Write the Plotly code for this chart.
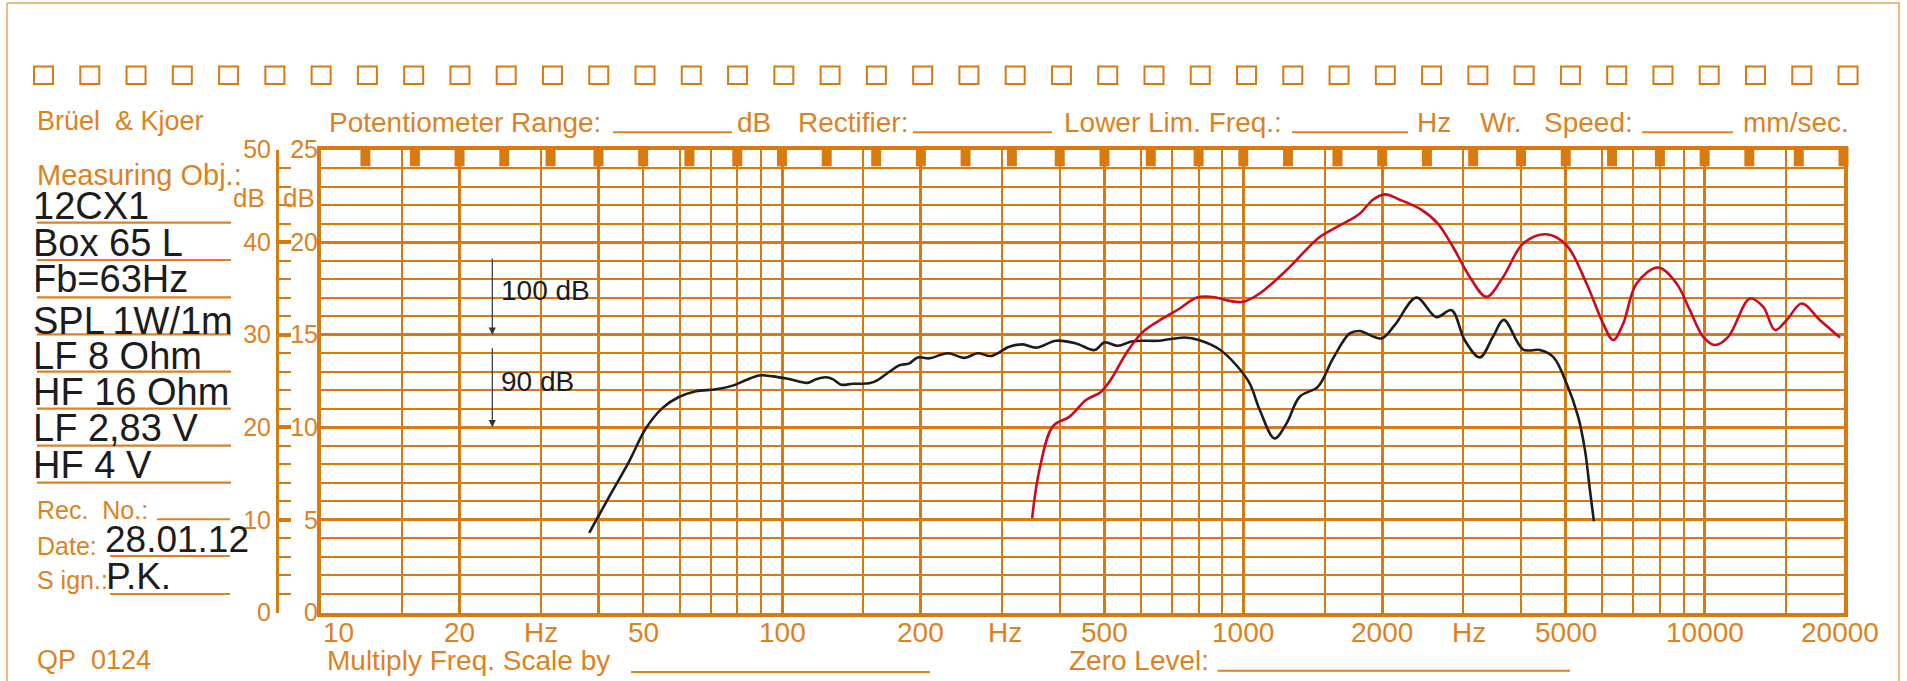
import math
import plotly.graph_objects as go

W, H = 1907, 681

# ---------------- data ----------------
# black curve: LF (woofer) response, level on the 0..50 dB scale
lf_freq = [38.2, 42.2, 46.6, 50.7, 55.1, 59.9, 65.1, 71.9, 78.2, 83.6, 89.3, 95.5,
           103.8, 113.6, 118.5, 124.6, 128.8, 134.3, 142.3, 154.6, 161.2, 170.9,
           179.7, 188.8, 196.8, 208.7, 228.6, 248.6, 265.6, 284, 311, 332.6, 355.6,
           393, 434, 476, 500, 534.6, 576, 658, 746, 804, 888.5, 966, 1032, 1085,
           1169, 1240, 1325, 1452, 1565, 1701, 1787, 1993, 2129, 2373, 2622, 2827,
           3020, 3255, 3479, 3670, 4043, 4393, 4696, 5018, 5318, 5502, 5640, 5754]
lf_level = [8.6, 12.5, 16.3, 19.9, 22.1, 23.3, 23.9, 24.1, 24.5, 25.1, 25.6, 25.5,
            25.2, 24.8, 25.2, 25.4, 25.2, 24.6, 24.7, 24.75, 25.1, 26.0,
            26.7, 26.9, 27.55, 27.45, 28.0, 27.5, 28.0, 27.7, 28.7, 28.95, 28.6,
            29.35, 29.06, 28.34, 29.17, 28.8, 29.3, 29.35, 29.7, 29.4, 28.4, 26.7, 24.75, 21.9,
            18.8, 20.4, 23.3, 24.4, 27.45, 30.14, 30.4, 29.6, 31.03, 34.0, 31.9, 32.65,
            29.4, 27.55, 29.8, 31.6, 28.4, 28.34, 27.6, 24.75, 21.15, 17.56, 13.25, 9.84]

# red curve: HF (compression driver) response
hf_freq = [348.5, 361.4, 386.4, 420, 456, 492, 521, 557, 605.6, 669, 727.8, 791, 859,
           934, 998, 1085, 1240, 1464, 1618, 1787, 1910, 2026, 2183, 2430, 2640, 2848,
           3097, 3365, 3658, 4043, 4544, 5018, 5546, 6026, 6335, 6660, 7120, 7933,
           8690, 9290, 9930, 10527, 11250, 12540, 13400, 14210, 15060, 16230, 17790, 19660]
hf_level = [10.2, 15.4, 20.1, 21.15, 22.95, 23.85, 25.46, 27.98, 30.3, 31.76, 32.83, 34.0, 34.08,
            33.65, 33.55, 34.45, 36.96, 40.55, 41.8, 43.07, 44.58, 45.15, 44.58, 43.5, 42.0, 39.47,
            36.24, 34.08, 36.24, 39.84, 40.84, 39.66, 35.53, 31.2, 29.42, 31.2, 35.53, 37.25,
            35.53, 32.65, 29.77, 28.88, 29.77, 33.9, 33.0, 30.5, 31.57, 33.37, 31.57, 29.7]

# chart-paper grid
grid_major_hz = [20, 40, 100, 200, 500, 1000, 2000, 5000, 10000]
grid_minor_hz = [15, 30, 50, 60, 70, 80, 90, 150, 300, 400, 600, 700, 800, 900,
                 1500, 3000, 4000, 6000, 7000, 8000, 9000, 15000]
third_oct_marks = [12.5, 16, 20, 25, 31.5, 40, 50, 63, 80, 100, 125, 160, 200, 250, 315,
                   400, 500, 630, 800, 1000, 1250, 1600, 2000, 2500, 3150, 4000, 5000,
                   6300, 8000, 10000, 12500, 16000, 20000]
x_labels = ["10", "20", "Hz", "50", "100", "200", "Hz", "500", "1000", "2000", "Hz",
            "5000", "10000", "20000"]
x_label_pos = [10.95, 20, 30, 50, 100, 200, 304, 500, 1000, 2000, 3080, 5000, 10000, 19700]
left_ticks = [0, 10, 20, 30, 40, 50]
right_ticks = [0, 5, 10, 15, 20, 25]
info_lines = ["12CX1", "Box 65 L", "Fb=63Hz", "SPL\u20091W/1m", "LF 8 Ohm", "HF 16 Ohm",
              "LF 2,83 V", "HF 4 V"]

# ---------------- style ----------------
OR = "#D97A10"       # grid orange
ORT = "#DC8222"      # text orange
FRAME = "#E6A45A"
BLK = "#1c1c1c"
RED = "#CC0A1E"
FONT = "Liberation Sans, Arial, sans-serif"

def px(x):
    return x / W

def py(y):
    return 1 - y / H

X0, X1 = 320.7, 1843.5
Y0, Y1 = 149.5, 612.5

fig = go.Figure()

fig.add_trace(go.Scatter(x=lf_freq, y=lf_level, mode="lines",
                         line=dict(color=BLK, width=2.6, shape="spline", smoothing=1.0),
                         hoverinfo="skip", showlegend=False))
fig.add_trace(go.Scatter(x=hf_freq, y=hf_level, mode="lines",
                         line=dict(color=RED, width=2.6, shape="spline", smoothing=1.0),
                         hoverinfo="skip", showlegend=False))
fig.add_trace(go.Scatter(x=third_oct_marks, y=[49.24] * len(third_oct_marks), mode="markers",
                         marker=dict(symbol="line-ns", size=14, line=dict(width=10, color=OR)),
                         hoverinfo="skip", showlegend=False, cliponaxis=False))

minor_y = [v for v in range(2, 50, 2) if v % 10 != 0]

fig.update_layout(
    width=W, height=H, autosize=False, template="none",
    margin=dict(l=0, r=0, t=0, b=0, pad=0),
    paper_bgcolor="white", plot_bgcolor="white",
    showlegend=False,
    xaxis=dict(type="log", range=[1, math.log10(20000)],
               domain=[px(X0), px(X1)], anchor="y",
               tickmode="array", tickvals=grid_major_hz, showticklabels=False, ticks="",
               showgrid=True, gridcolor=OR, gridwidth=3.2, zeroline=False,
               showline=True, mirror=True, linecolor=OR, linewidth=4,
               automargin=False,
               minor=dict(tickmode="array", tickvals=grid_minor_hz, showgrid=True,
                          gridcolor=OR, gridwidth=1.5, ticks="")),
    yaxis=dict(range=[0, 50], domain=[py(Y1), py(Y0)], anchor="x",
               tickmode="array", tickvals=left_ticks, showticklabels=False, ticks="",
               showgrid=True, gridcolor=OR, gridwidth=3.2, zeroline=False,
               showline=True, mirror=True, linecolor=OR, linewidth=4,
               automargin=False,
               minor=dict(tickmode="array", tickvals=minor_y, showgrid=True,
                          gridcolor=OR, gridwidth=1.5, ticks="")),
    yaxis2=dict(overlaying="y", anchor="free", position=px(276.7), side="left",
                range=[0, 50], tickmode="array", tickvals=left_ticks,
                ticktext=[str(v) for v in left_ticks],
                ticks="inside", ticklen=13, tickwidth=4, tickcolor=OR,
                showline=True, linecolor=OR, linewidth=2.5, showgrid=False, zeroline=False,
                tickfont=dict(size=25, color=ORT, family=FONT), automargin=False,
                minor=dict(tickmode="array", tickvals=list(range(2, 50, 2)), ticks="inside",
                           ticklen=13, tickwidth=1.6, tickcolor=OR, showgrid=False)),
    yaxis3=dict(overlaying="y", anchor="free", position=px(318), side="left",
                range=[0, 25], tickmode="array", tickvals=right_ticks,
                ticktext=[str(v) for v in right_ticks], ticks="", showline=False,
                showgrid=False, zeroline=False,
                tickfont=dict(size=25, color=ORT, family=FONT), automargin=False),
)

# invisible traces so the overlay axes are drawn
fig.add_trace(go.Scatter(x=[10], y=[0], yaxis="y2", mode="markers", marker=dict(opacity=0),
                         hoverinfo="skip", showlegend=False))
fig.add_trace(go.Scatter(x=[10], y=[0], yaxis="y3", mode="markers", marker=dict(opacity=0),
                         hoverinfo="skip", showlegend=False))

ann = []
shapes = []

def text(x, y, s, size, color=ORT, anchor="left"):
    ann.append(dict(x=px(x), y=py(y), xref="paper", yref="paper", text=s, showarrow=False,
                    xanchor=anchor, yanchor="middle",
                    font=dict(size=size, color=color, family=FONT)))

def hline(x0, x1, y, color=ORT, width=2):
    shapes.append(dict(type="line", xref="paper", yref="paper", x0=px(x0), x1=px(x1),
                       y0=py(y), y1=py(y), line=dict(color=color, width=width), layer="below"))

# outer frame
shapes.append(dict(type="line", xref="paper", yref="paper", x0=px(7), x1=px(1900), y0=py(3), y1=py(3),
                   line=dict(color=FRAME, width=1.5)))
shapes.append(dict(type="line", xref="paper", yref="paper", x0=px(7), x1=px(7), y0=py(3), y1=0,
                   line=dict(color=FRAME, width=1.5)))
shapes.append(dict(type="line", xref="paper", yref="paper", x0=px(1899), x1=px(1899), y0=py(3), y1=0,
                   line=dict(color=FRAME, width=1.5)))

# row of squares
for i in range(40):
    sx = 34 + i * 46.27
    shapes.append(dict(type="rect", xref="paper", yref="paper", x0=px(sx), x1=px(sx + 19),
                       y0=py(84), y1=py(66.5), line=dict(color=OR, width=2)))

# header
HS = 28
text(35, 121, "Brüel&nbsp; &amp; Kjoer", 27)
text(326.7, 122, "Potentiometer Range:", HS)
hline(613, 732, 132.3)
text(735, 122, "dB", HS)
text(796, 122, "Rectifier:", HS)
hline(913, 1052, 132.3)
text(1061.7, 122, "Lower Lim. Freq.:", HS)
hline(1292, 1408, 132.3)
text(1415, 122, "Hz", HS)
text(1478, 122, "Wr.", HS)
text(1542, 122, "Speed:", HS)
hline(1642, 1733, 132.3)
text(1741, 122, "mm/sec.", HS)

# left info block
text(35, 175, "Measuring Obj.:", 29)
info_y = [206.3, 242.5, 279, 321, 355.8, 392, 427.5, 465]
line_y = [222.7, 260, 297.3, 334.3, 371.7, 408.7, 445.7, 482.7]
for s, ty, ly in zip(info_lines, info_y, line_y):
    hline(37, 231, ly, width=2.2)
    text(31, ty, s, 38, color=BLK)

text(35, 510, "Rec.&nbsp; No.:", 25)
hline(157, 230, 519.3)
text(35, 546, "Date:", 25)
hline(110, 230, 556)
text(103, 539, "28.01.12", 37, color=BLK)
text(35, 580, "S ign.:", 25)
hline(110, 230, 594)
text(104, 576, "P.K.", 37, color=BLK)
text(35, 660, "QP&nbsp; 0124", 27)

# dB unit labels
text(267, 198, "dB", 26, anchor="right")
text(317, 198, "dB", 26, anchor="right")

# bottom texts
text(325, 660, "Multiply Freq. Scale by", 28)
hline(631, 930, 672)
text(1066.5, 660, "Zero Level:", 28)
hline(1217.6, 1570, 670.7)

# frequency labels (placed through the log x axis)
for lab, f in zip(x_labels, x_label_pos):
    ann.append(dict(x=math.log10(f), y=py(632), xref="x", yref="paper", text=lab,
                    showarrow=False, xanchor="center", yanchor="middle",
                    font=dict(size=28, color=ORT, family=FONT)))

# reference-level arrows (100 dB at 30, 90 dB at 20 on the left scale)
arrow_f = 23.55
for tip, tail, lab, ty in [(30, 38.4, "100 dB", 290), (20, 28.7, "90 dB", 381)]:
    ann.append(dict(x=math.log10(arrow_f), y=tip, ax=math.log10(arrow_f), ay=tail,
                    xref="x", yref="y", axref="x", ayref="y", text="", showarrow=True,
                    arrowhead=2, arrowsize=1.2, arrowwidth=1.2, arrowcolor="#333333"))
    text(499, ty, lab, 28, color=BLK)

fig.update_layout(annotations=ann, shapes=shapes)

fig.write_html("out.html", config={"displayModeBar": False},
               post_script="document.body.style.margin='0';")
